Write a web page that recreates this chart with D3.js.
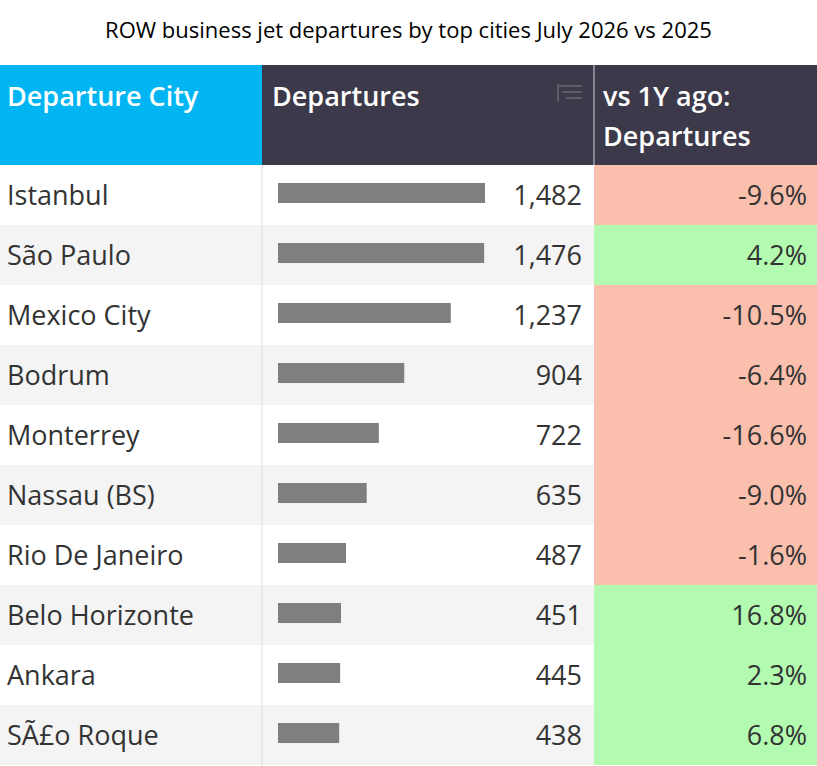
<!DOCTYPE html>
<html><head><meta charset="utf-8">
<script src="https://cdn.jsdelivr.net/npm/d3@7"></script>
<style>body{margin:0;background:#fff}</style>
</head><body>
<script>
const cities = ["Istanbul","São Paulo","Mexico City","Bodrum","Monterrey","Nassau (BS)","Rio De Janeiro","Belo Horizonte","Ankara","SÃ£o Roque"]
const departures = [1482,1476,1237,904,722,635,487,451,445,438]
const change = [-9.6,4.2,-10.5,-6.4,-16.6,-9.0,-1.6,16.8,2.3,6.8]

const width = 817, height = 766
const svg = d3.select("body").append("svg").attr("width", width).attr("height", height)
  .style("font-family", "'Open Sans', sans-serif")

svg.append("text").attr("x", width/2).attr("y", 38).attr("text-anchor", "middle")
  .attr("font-size", 22).attr("fill", "#000").text("ROW business jet departures by top cities July 2026 vs 2025")

const headTop = 65, headH = 100, rowH = 60
const c1 = 262, c2 = 594

// header
svg.append("rect").attr("x", 0).attr("y", headTop).attr("width", c1).attr("height", headH).attr("fill", "#00b5f1")
svg.append("rect").attr("x", c1).attr("y", headTop).attr("width", width - c1).attr("height", headH).attr("fill", "#3c3a4a")
svg.append("line").attr("x1", c2).attr("x2", c2).attr("y1", headTop).attr("y2", headTop + headH).attr("stroke", "#cfcfd6").attr("stroke-width", 1)
const hd = svg.append("g").attr("fill", "#fff").attr("font-size", 27).attr("font-weight", 600)
hd.append("text").attr("x", 7).attr("y", 106).text("Departure City")
hd.append("text").attr("x", 272).attr("y", 106).text("Departures")
hd.append("text").attr("x", 603).attr("y", 106).text("vs 1Y ago:")
hd.append("text").attr("x", 603).attr("y", 146).text("Departures")
// sort icon
const ic = svg.append("g").attr("stroke", "#5d5b6a").attr("stroke-width", 2)
;[[558,582,86],[562,582,92],[566,582,98]].forEach(([a,b,yy]) => ic.append("line").attr("x1",a).attr("x2",b).attr("y1",yy).attr("y2",yy))
ic.append("line").attr("x1",558).attr("x2",558).attr("y1",84).attr("y2",102)

const y = d3.scaleBand().domain(cities).range([headTop + headH, headTop + headH + rowH * cities.length])
const x = d3.scaleLinear().domain([0, 1482]).range([0, 207])

const rows = svg.selectAll("g.row").data(cities).join("g").attr("class", "row")
  .attr("transform", d => `translate(0,${y(d)})`)
rows.append("rect").attr("width", width).attr("height", rowH)
  .attr("fill", (d, i) => i % 2 ? "#f4f4f4" : "#fff")
rows.append("rect").attr("x", c2).attr("width", width - c2).attr("height", rowH)
  .attr("fill", (d, i) => change[i] < 0 ? "#fbbfae" : "#b2fbb0")
rows.append("text").attr("x", 7).attr("y", 40).attr("font-size", 27).attr("fill", "#333").text(d => d)
rows.append("rect").attr("x", 278).attr("y", 18).attr("height", 20)
  .attr("width", (d, i) => x(departures[i])).attr("fill", "#7f7f7f")
rows.append("text").attr("x", 582).attr("y", 40).attr("text-anchor", "end").attr("font-size", 27).attr("fill", "#333")
  .text((d, i) => d3.format(",")(departures[i]))
rows.append("text").attr("x", 807).attr("y", 40).attr("text-anchor", "end").attr("font-size", 27).attr("fill", "#333")
  .text((d, i) => change[i].toFixed(1) + "%")

svg.append("line").attr("x1", c1).attr("x2", c1).attr("y1", headTop + headH).attr("y2", height).attr("stroke", "#ddd")
</script>
</body></html>
